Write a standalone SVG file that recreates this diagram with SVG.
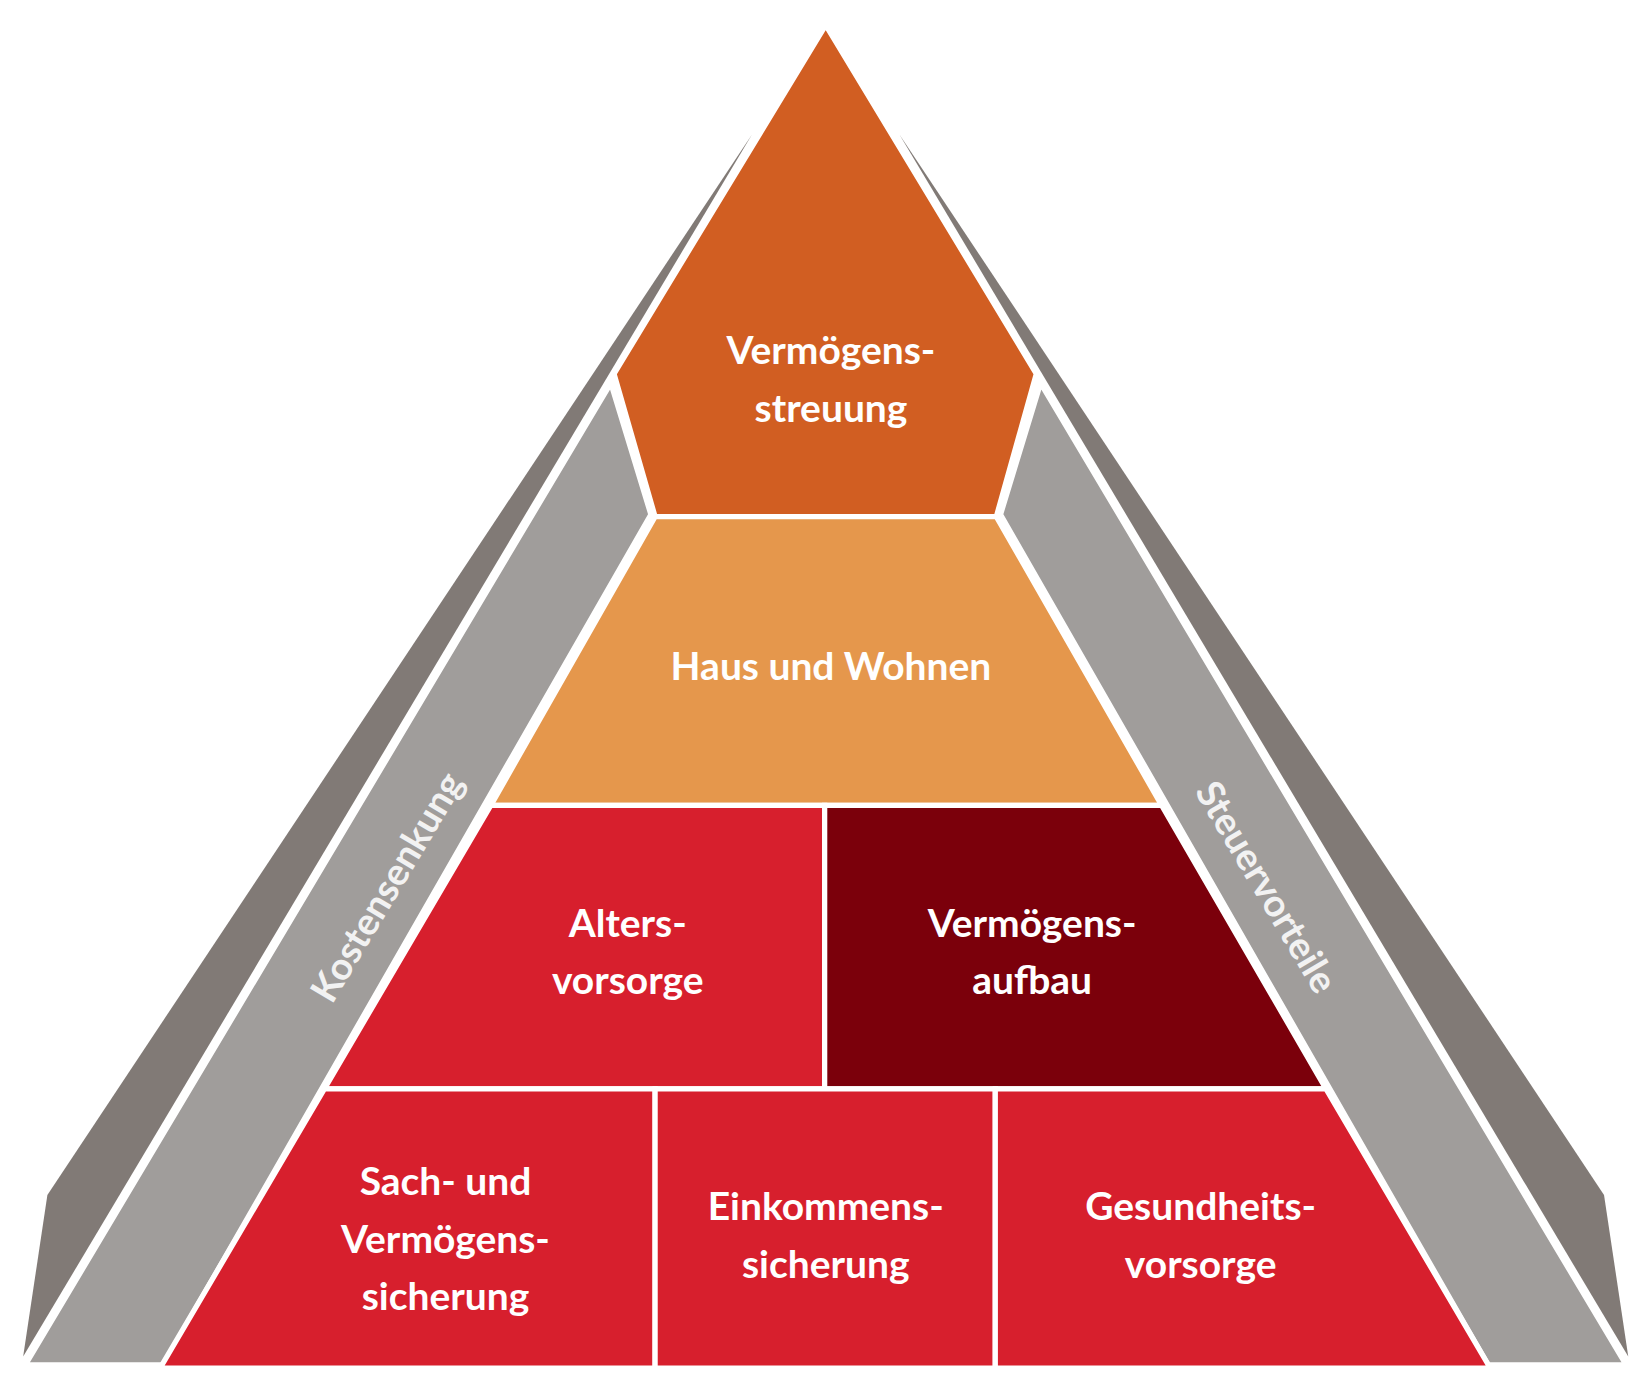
<svg xmlns="http://www.w3.org/2000/svg" width="1643" height="1386" viewBox="0 0 1643 1386">
<style>
.dk{fill:#817A76}
.lt{fill:#A09D9B;stroke:#fff;stroke-width:5;stroke-linejoin:round}
.b{stroke:#fff;stroke-width:5;stroke-linejoin:miter}
text{font-family:"Lato","Open Sans",sans-serif;font-weight:bold;font-size:37px;fill:#fff;text-anchor:middle}
.side{fill:#F2F2F2;font-size:36px}
</style>
<rect width="1643" height="1386" fill="#fff"/>
<g transform="scale(1.0532 1.05)">
<g id="frame">
<polygon class="dk" points="714,128 45,1138 22,1292"/>
<polygon class="dk" points="854,128 1523,1138 1546,1292"/>
<polygon class="lt" points="24,1300 580,365 618,490 155,1300"/>
<polygon class="lt" points="1544,1300 988,365 950,490 1413,1300"/>
<text class="side" transform="translate(368,845) rotate(-59.3)" dy="12">Kostensenkung</text>
<text class="side" transform="translate(1202,845) rotate(59.3)" dy="12">Steuervorteile</text>
</g>
<g id="top"><polygon class="b" fill="#D15E22" points="784,24 984,356 946,492 622,492 583,356"/>
<text x="789" y="347">Vermögens-</text><text x="789" y="402">streuung</text></g>
<g id="haus"><polygon class="b" fill="#E5974C" points="622,492 946,492 1103,767 466,767"/>
<text x="789" y="648">Haus und Wohnen</text></g>
<g id="alters"><polygon class="b" fill="#D71F2D" points="466,767 783,767 783,1037 308,1037"/>
<text x="596" y="892">Alters-</text><text x="596" y="947">vorsorge</text></g>
<g id="aufbau"><polygon class="b" fill="#7B000B" points="783,767 1103,767 1259,1037 783,1037"/>
<text x="980" y="892">Vermögens-</text><text x="980" y="947">aufbau</text></g>
<g id="sach"><polygon class="b" fill="#D71F2D" points="308,1037 622,1037 622,1303 152,1303"/>
<text x="423" y="1138">Sach- und</text><text x="423" y="1193">Vermögens-</text><text x="423" y="1248">sicherung</text></g>
<g id="einkommen"><polygon class="b" fill="#D71F2D" points="622,1037 945,1037 945,1303 622,1303"/>
<text x="784" y="1162">Einkommens-</text><text x="784" y="1217">sicherung</text></g>
<g id="gesundheit"><polygon class="b" fill="#D71F2D" points="945,1037 1259,1037 1415,1303 945,1303"/>
<text x="1140" y="1162">Gesundheits-</text><text x="1140" y="1217">vorsorge</text></g>
</g>
<g id="connectors"/>
</svg>
